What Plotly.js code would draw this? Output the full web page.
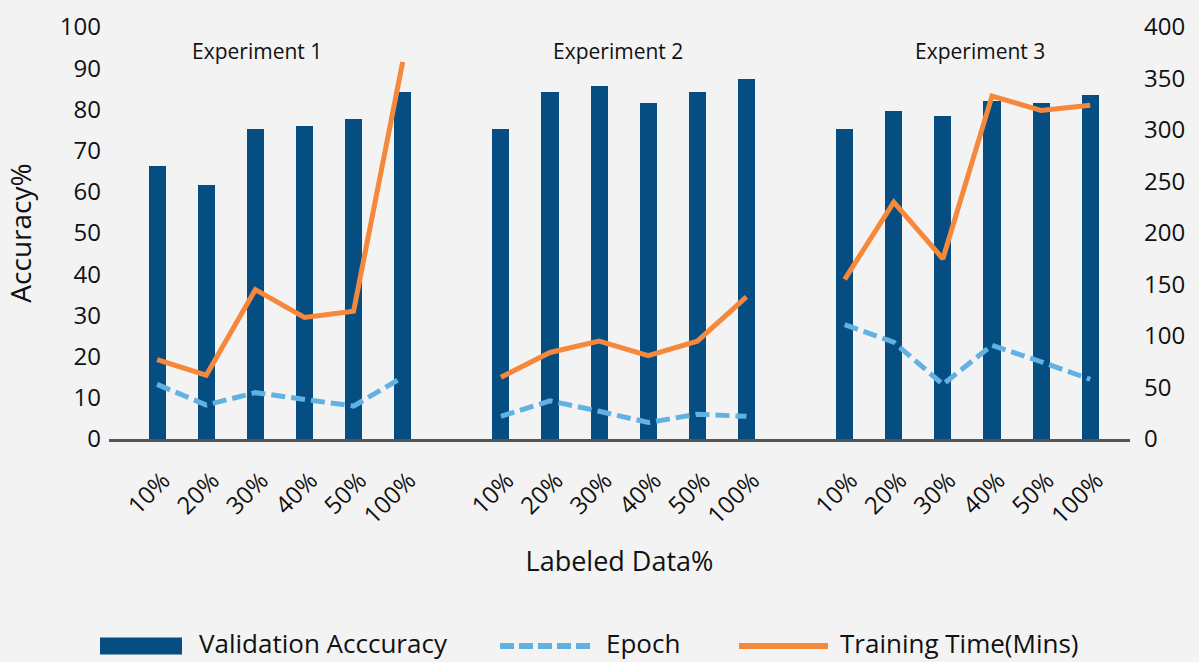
<!DOCTYPE html>
<html>
<head>
<meta charset="utf-8">
<script src="https://cdn.plot.ly/plotly-3.0.1.min.js"></script>
<style>
  html, body { margin: 0; padding: 0; background: #f3f3f3; }
  #chart { width: 1199px; height: 662px; }
</style>
</head>
<body>
<div id="chart"></div>
<script>
// ---- Data ----
const labels = ['10%', '20%', '30%', '40%', '50%', '100%'];
const experiments = ['Experiment 1', 'Experiment 2', 'Experiment 3'];

const accExp1 = [66.2, 61.6, 75.2, 75.9, 77.6, 84.2];
const accExp2 = [75.2, 84.2, 85.6, 81.5, 84.2, 87.4];
const accExp3 = [75.2, 79.6, 78.4, 82.1, 81.5, 83.4];

const epochExp1 = [53, 33, 45, 38, 32, 60];
const epochExp2 = [22, 37, 27, 16, 24, 22];
const epochExp3 = [111, 94, 53, 91, 75, 58];

const timeExp1 = [77, 62, 145, 118, 124, 366];
const timeExp2 = [60, 84, 95, 81, 95, 138];
const timeExp3 = [155, 230, 175, 333, 319, 324];

// ---- Build series (one blank slot between experiments) ----
const accAll = [accExp1, accExp2, accExp3];
const epochAll = [epochExp1, epochExp2, epochExp3];
const timeAll = [timeExp1, timeExp2, timeExp3];
const slot = labels.length + 1;

const xs = [], accY = [], epY = [], tmY = [], tickvals = [], ticktext = [];
accAll.forEach((grp, g) => {
  grp.forEach((v, j) => {
    const x = g * slot + j;
    xs.push(x); accY.push(v);
    epY.push(epochAll[g][j]); tmY.push(timeAll[g][j]);
    tickvals.push(x); ticktext.push(labels[j]);
  });
  if (g < accAll.length - 1) { xs.push(g * slot + labels.length); accY.push(null); epY.push(null); tmY.push(null); }
});

const BAR = '#064d82', EPOCH = '#62b1e3', TIME = '#f5883a', FONT = '"Open Sans", "Noto Sans", sans-serif';

const traces = [
  { type: 'bar', name: 'Validation Acccuracy', x: xs, y: accY, width: 0.35,
    marker: { color: BAR }, yaxis: 'y', hoverinfo: 'x+y' },
  { type: 'scatter', mode: 'lines', name: 'Epoch', x: xs, y: epY, yaxis: 'y2',
    connectgaps: false, line: { color: EPOCH, width: 5, dash: '14px,6px' } },
  { type: 'scatter', mode: 'lines', name: 'Training Time(Mins)', x: xs, y: tmY, yaxis: 'y2',
    connectgaps: false, line: { color: TIME, width: 5 } }
];

// ---- Layout geometry ----
const L = 109, R = 69, T = 27, B = 223, W = 1199, H = 662;
const pw = W - L - R, ph = H - T - B;
const px = p => (p - L) / pw;          // pixel x -> paper
const py = p => (H - B - p) / ph;      // pixel y -> paper

const legY = 646;
const shapes = [
  { type: 'rect', xref: 'paper', yref: 'paper', x0: px(100), x1: px(182), y0: py(legY + 8.5), y1: py(legY - 8.5),
    fillcolor: BAR, line: { width: 0 } },
  { type: 'line', xref: 'paper', yref: 'paper', x0: px(500), x1: px(593), y0: py(legY), y1: py(legY),
    line: { color: EPOCH, width: 6, dash: '14px,5px' } },
  { type: 'line', xref: 'paper', yref: 'paper', x0: px(739), x1: px(828), y0: py(legY), y1: py(legY),
    line: { color: TIME, width: 6 } }
];

const annotations = [];
const expX = [2.03, 9.38, 16.75];
experiments.forEach((e, i) => annotations.push({
  text: e, xref: 'x', yref: 'paper', x: expX[i], y: py(51), showarrow: false,
  xanchor: 'center', yanchor: 'middle', font: { size: 21, color: '#111', family: FONT }
}));
[['Validation Acccuracy', 198], ['Epoch', 605], ['Training Time(Mins)', 839]].forEach(([t, x]) =>
  annotations.push({ text: t, xref: 'paper', yref: 'paper', x: px(x), y: py(643), showarrow: false,
    xanchor: 'left', yanchor: 'middle', borderpad: 0, font: { size: 26, color: '#111', family: FONT } }));

const layout = {
  width: W, height: H,
  margin: { l: L, r: R, t: T, b: B },
  paper_bgcolor: '#f3f3f3', plot_bgcolor: '#f3f3f3',
  font: { family: FONT, color: '#111' },
  showlegend: false,
  bargap: 0,
  xaxis: {
    range: [-0.98, 19.81], tickmode: 'array', tickvals: tickvals, ticktext: ticktext,
    tickangle: -45, tickfont: { size: 24, color: '#111' }, showgrid: false, zeroline: false,
    showline: true, linecolor: '#555', linewidth: 3, ticks: '',
    ticklabelstandoff: 15, ticklabelshift: 6,
    title: { text: 'Labeled Data%', font: { size: 27, color: '#111' }, standoff: 23 },
    automargin: false, fixedrange: true
  },
  yaxis: {
    range: [0, 100], dtick: 10, tickfont: { size: 24, color: '#111' }, showgrid: false,
    zeroline: false, showline: false, ticks: '', ticklabelstandoff: 7,
    title: { text: 'Accuracy%', font: { size: 28, color: '#111' }, standoff: 20 },
    automargin: false, fixedrange: true
  },
  yaxis2: {
    overlaying: 'y', side: 'right', range: [0, 400], dtick: 50,
    tickfont: { size: 24, color: '#111' }, showgrid: false, zeroline: false, showline: false,
    ticks: '', ticklabelstandoff: 13, automargin: false, fixedrange: true
  },
  shapes: shapes,
  annotations: annotations
};

Plotly.newPlot('chart', traces, layout, { displayModeBar: false, staticPlot: true });
</script>
</body>
</html>
